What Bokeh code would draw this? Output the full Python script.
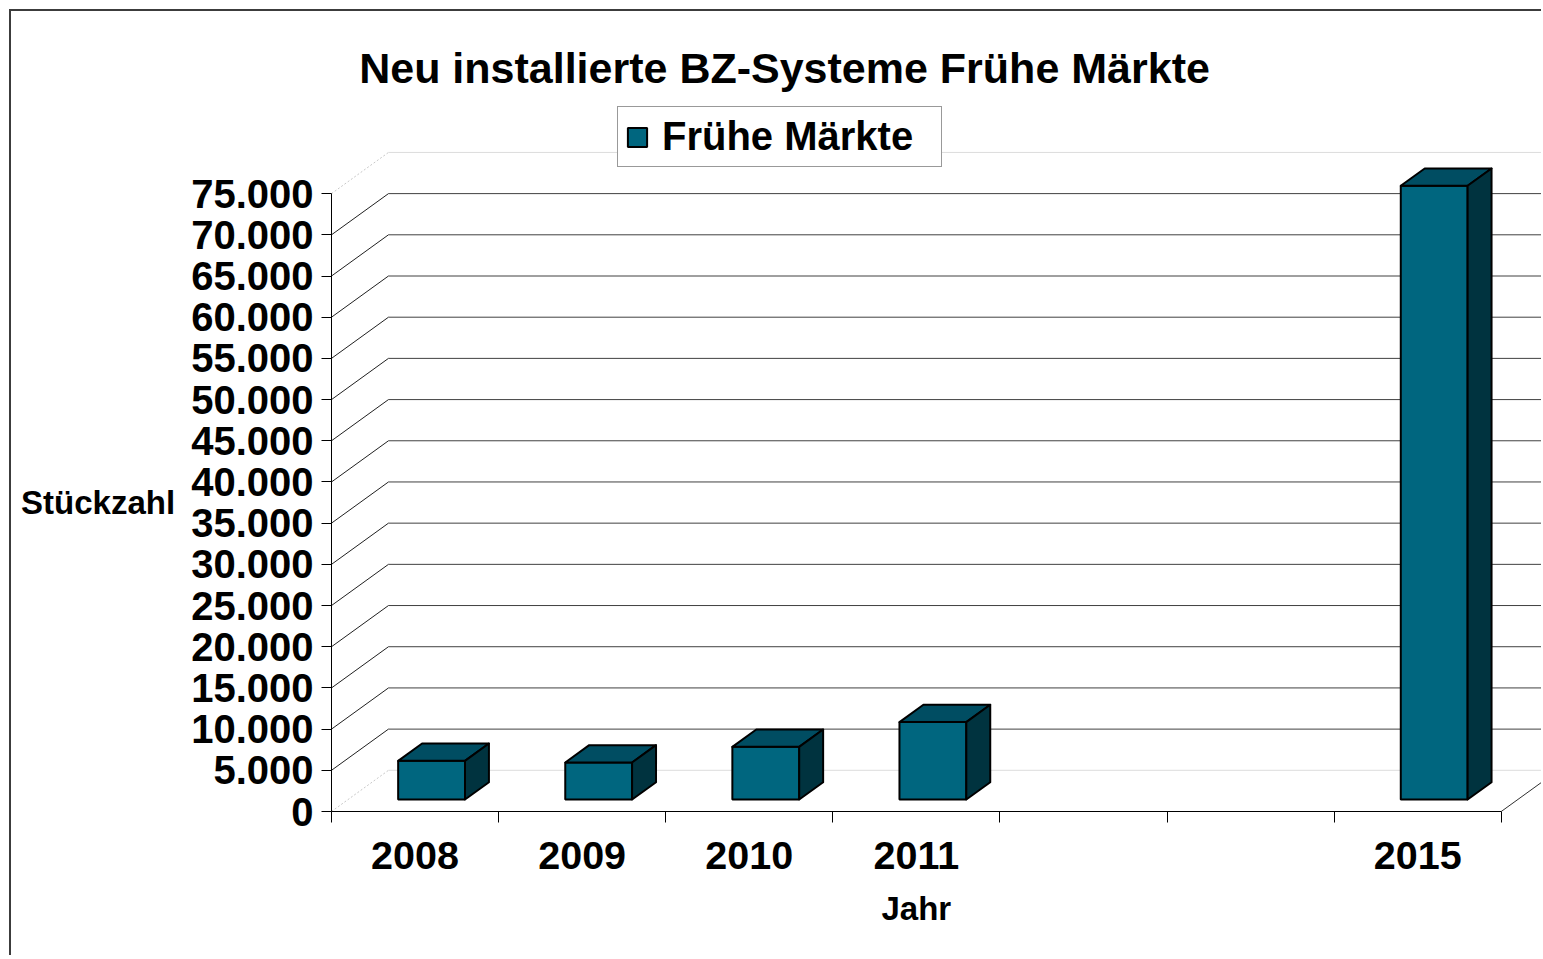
from bokeh.plotting import figure
from bokeh.models import Range1d, FixedTicker, Label, Legend, LegendItem, Title
from bokeh.embed import file_html
from bokeh.resources import INLINE

# ---------------- data ----------------
title_text = "Neu installierte BZ-Systeme Frühe Märkte"
series_name = "Frühe Märkte"
x_title = "Jahr"
y_title = "Stückzahl"
categories = ["2008", "2009", "2010", "2011", "", "", "2015"]
values = [4700, 4500, 6400, 9400, None, None, 74500]
y_ticks = [0, 5000, 10000, 15000, 20000, 25000, 30000, 35000, 40000,
           45000, 50000, 55000, 60000, 65000, 70000, 75000]
y_tick_labels = ["0", "5.000", "10.000", "15.000", "20.000", "25.000",
                 "30.000", "35.000", "40.000", "45.000", "50.000", "55.000",
                 "60.000", "65.000", "70.000", "75.000"]

# ---------------- style / layout ----------------
FONT = "Liberation Sans"
W, H = 1532, 946
X_END = 7.253
Y_END = 94800
DX = 0.341      # 3D depth offset (category units)
DY = 5000       # 3D depth offset (value units)
T0, T1 = 0.29, 0.71
HALF = 0.2
FRONT = "#00667f"
TOP = "#004d62"
SIDE = "#00333f"

n_cat = len(categories)
centers = [i + 0.5 for i in range(n_cat)]

p = figure(width=W, height=H, x_range=Range1d(0, X_END), y_range=Range1d(0, Y_END),
           output_backend="svg", toolbar_location=None,
           min_border_left=320, min_border_right=0, min_border_top=19,
           min_border_bottom=146)
p.title.visible = False
p.xgrid.visible = False
p.ygrid.visible = False
p.outline_line_color = None
p.background_fill_color = "white"
p.border_fill_color = "white"
p.styles = {"margin-left": "9px", "margin-top": "9px",
            "border-left": "2px solid #3c3c3c", "border-top": "2px solid #3c3c3c"}

# ---- back wall grid lines ----
mid = y_ticks[1:-1]
p.segment(x0=[DX] * len(mid), y0=[v + DY for v in mid],
          x1=[n_cat + DX] * len(mid), y1=[v + DY for v in mid],
          line_color="#404040", line_width=1)
ends = [y_ticks[0], y_ticks[-1]]
p.segment(x0=[DX] * 2, y0=[v + DY for v in ends],
          x1=[n_cat + DX] * 2, y1=[v + DY for v in ends],
          line_color="#dcdcdc", line_width=1)
# ---- side wall diagonals ----
p.segment(x0=[0] * len(mid), y0=mid, x1=[DX] * len(mid), y1=[v + DY for v in mid],
          line_color="#202020", line_width=1)
p.segment(x0=[0] * 2, y0=ends, x1=[DX] * 2, y1=[v + DY for v in ends],
          line_color="#c8c8c8", line_width=1, line_dash="2 2")
# ---- floor right edge ----
p.segment(x0=[n_cat], y0=[0], x1=[n_cat + DX], y1=[DY], line_color="#303030", line_width=1)

# ---- bars ----
bars = [(c, v) for c, v in zip(centers, values) if v is not None]
front_r = p.quad(left=[c - HALF + T0 * DX for c, v in bars],
                 right=[c + HALF + T0 * DX for c, v in bars],
                 bottom=[T0 * DY for c, v in bars],
                 top=[v + T0 * DY for c, v in bars],
                 fill_color=FRONT, line_color="black", line_width=2)
p.patches(xs=[[c - HALF + T0 * DX, c + HALF + T0 * DX, c + HALF + T1 * DX, c - HALF + T1 * DX] for c, v in bars],
          ys=[[v + T0 * DY, v + T0 * DY, v + T1 * DY, v + T1 * DY] for c, v in bars],
          fill_color=TOP, line_color="black", line_width=2, line_join="round")
p.patches(xs=[[c + HALF + T0 * DX, c + HALF + T1 * DX, c + HALF + T1 * DX, c + HALF + T0 * DX] for c, v in bars],
          ys=[[T0 * DY, T1 * DY, v + T1 * DY, v + T0 * DY] for c, v in bars],
          fill_color=SIDE, line_color="black", line_width=2, line_join="round")

# ---- x axis ----
xa = p.xaxis[0]
xa.ticker = FixedTicker(ticks=centers, minor_ticks=list(range(n_cat + 1)))
xa.major_label_overrides = {c: lab for c, lab in zip(centers, categories)}
xa.bounds = (0, n_cat)
xa.major_tick_line_color = None
xa.major_tick_out = 0
xa.major_tick_in = 0
xa.minor_tick_out = 11
xa.minor_tick_in = 0
xa.minor_tick_line_color = "black"
xa.axis_line_color = "black"
xa.major_label_standoff = 19
xa.major_label_text_font = FONT
xa.major_label_text_font_size = "39.5px"
xa.major_label_text_font_style = "bold"
xa.major_label_text_color = "black"

# ---- y axis ----
ya = p.yaxis[0]
ya.ticker = FixedTicker(ticks=y_ticks, minor_ticks=[])
ya.major_label_overrides = {v: lab for v, lab in zip(y_ticks, y_tick_labels)}
ya.bounds = (y_ticks[0], y_ticks[-1])
ya.major_tick_out = 10
ya.major_tick_in = 0
ya.major_tick_line_color = "black"
ya.minor_tick_line_color = None
ya.axis_line_color = "black"
ya.major_label_standoff = 8
ya.major_label_text_font = FONT
ya.major_label_text_font_size = "40px"
ya.major_label_text_font_style = "bold"
ya.major_label_text_color = "black"
# y axis title: horizontal, pushed down to the middle of the value axis
ya.axis_label = "\n\n\n\n" + y_title
ya.axis_label_orientation = "horizontal"
ya.axis_label_text_font = FONT
ya.axis_label_text_font_size = "33px"
ya.axis_label_text_font_style = "bold"
ya.axis_label_text_color = "black"
ya.axis_label_text_line_height = 1.1
ya.axis_label_standoff = 13

# ---- x axis title (centred under the category axis) ----
p.add_layout(Title(text=x_title, align="left", offset=550, standoff=33,
                   text_font=FONT, text_font_size="33px", text_font_style="bold",
                   text_color="black"), "below")

# ---- title ----
p.add_layout(Label(x=2.711, y=90200, text=title_text, text_align="center",
                   text_baseline="middle", text_font=FONT, text_font_size="43px",
                   text_font_style="bold", text_color="black"))

# ---- legend ----
legend = Legend(items=[LegendItem(label=series_name, renderers=[front_r])],
                location=(286, 644), orientation="vertical",
                glyph_width=24, glyph_height=24, padding=7, spacing=0, margin=0,
                label_standoff=13, label_width=272,
                label_text_font=FONT, label_text_font_size="40px",
                label_text_font_style="bold", label_text_color="black",
                border_line_color="#333333", border_line_width=1,
                background_fill_color="white", background_fill_alpha=1.0)
p.add_layout(legend)

open("out.html", "w").write(file_html(p, INLINE))
